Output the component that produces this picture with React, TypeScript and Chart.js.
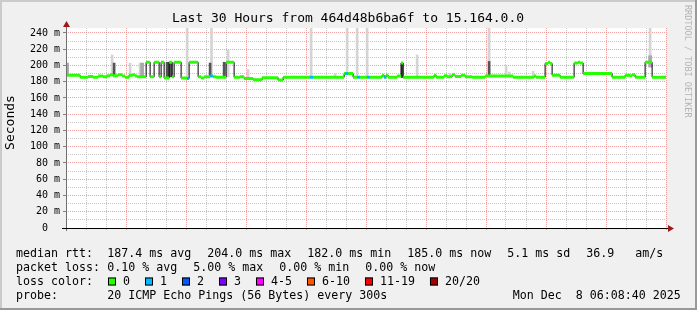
import React, { useEffect, useRef } from 'react';
import { Chart, registerables } from 'chart.js';

Chart.register(...registerables);

// ---- time axis: hours since Sun 00:00 ----
const START_H = 8 / 60 + 40 / 3600; // Sun 00:08:40
const END_H = START_H + 30; // Mon 06:08:40
const Y_MAX_MS = 246.15;

const xLabelHours = [6, 12, 18, 24, 30];
const xLabelTexts = ['Sun 06:00', 'Sun 12:00', 'Sun 18:00', 'Mon 00:00', 'Mon 06:00'];

// ---- median rtt (step starts, ms, lost pings) ----
const medianT = [
  0.144, 0.85, 1.25, 1.5, 1.75, 2.0, 2.2, 2.35, 2.5, 2.75, 2.95, 3.1, 3.3, 3.5, 3.6, 3.7,
  4.15, 4.35, 4.55, 4.8, 4.9, 5.05, 5.3, 5.45, 5.55, 5.9, 6.2, 6.3, 6.75, 6.9, 7.05, 7.35,
  7.5, 7.65, 8.15, 8.55, 8.85, 9.05, 9.5, 9.95, 10.75, 11.0, 12.35, 12.5, 14.05, 14.1, 14.25,
  14.5, 14.7, 14.85, 15.2, 15.35, 15.95, 16.05, 16.15, 16.25, 16.7, 16.9, 17.0, 18.55, 18.65,
  19.05, 19.2, 19.45, 19.6, 19.9, 20.1, 20.45, 21.1, 22.5, 23.55, 23.65, 24.1, 24.25, 24.35,
  24.45, 24.85, 25.55, 25.75, 25.85, 26.0, 27.45, 28.1, 28.35, 28.45, 28.6, 29.1, 29.45,
];
const medianMs = [
  188, 185.5, 186.5, 185.5, 187, 186, 187.5, 188.5, 187.5, 188.5, 187, 185.5, 188, 188.5, 187, 186,
  204, 186, 204, 186, 204, 184.5, 204, 186, 204, 184.5, 184, 204, 186, 184.5, 186, 187,
  186, 185.5, 204, 185.5, 186, 184, 182.5, 185, 182, 185.5, 185.5, 185.5, 190, 190, 190,
  185.5, 185.5, 185.5, 185.5, 185.5, 188, 185.5, 188, 185.5, 187, 203, 185.5, 188, 185.5,
  187.5, 186, 188.5, 186.5, 188, 186, 185.5, 187, 185.5, 187, 185.5, 202.5, 204, 202.5,
  188, 185.5, 203, 204, 203, 190, 185.5, 188, 187.5, 188.5, 185.5, 204, 185.5,
];
const medianLoss = [
  0, 0, 0, 0, 0, 0, 0, 0, 0, 0, 0, 0, 0, 0, 0, 0,
  0, 0, 0, 0, 0, 0, 0, 0, 0, 0, 1, 0, 0, 0, 0, 1,
  0, 0, 0, 0, 0, 0, 0, 0, 0, 0, 1, 0, 0, 1, 0,
  0, 1, 0, 1, 0, 0, 1, 0, 0, 0, 0, 0, 0, 0,
  0, 0, 0, 0, 0, 0, 0, 0, 0, 0, 0, 0, 0, 0,
  0, 0, 0, 0, 0, 0, 0, 0, 0, 0, 0, 0, 0,
];

// ---- smoke (ping spread) ----
const smokeLightT = [2.45, 3.35, 3.85, 6.2, 7.42, 8.25, 9.25, 12.4, 13.6, 14.2, 14.7, 15.2, 17.7, 19.35, 21.3, 22.15, 22.3, 23.5, 29.35];
const smokeLightLo = [187, 188, 186, 184, 187, 186, 184, 185, 185, 190, 185, 185, 185, 186, 187, 187, 187, 186, 204];
const smokeLightHi = [213, 203, 203, 246, 246, 219, 195, 246, 190, 246, 246, 246, 213, 190, 246, 200, 192, 193, 246];

const smokeMidT = [0.2, 3.95, 29.35];
const smokeMidLo = [188, 186, 198];
const smokeMidHi = [203, 203, 212];

const smokeDarkT = [2.55, 5.2, 5.3, 5.4, 7.35, 8.05, 16.95, 21.3];
const smokeDarkLo = [187, 186, 186, 186, 187, 186, 185, 187];
const smokeDarkHi = [203, 204, 204, 204, 203, 204, 203, 205];

// ---- legend ----
const medianStats = ['187.4 ms avg', '204.0 ms max', '182.0 ms min', '185.0 ms now', '5.1 ms sd', '36.9   am/s'];
const lossStats = ['0.10 % avg', '5.00 % max', '0.00 % min', '0.00 % now'];
const lossColors = ['#26ff00', '#00b8ff', '#0059ff', '#7e00ff', '#ff00ff', '#ff5500', '#ff0000', '#a10000'];
const lossLabels = ['0', '1', '2', '3', '4-5', '6-10', '11-19', '20/20'];
const probeText = '20 ICMP Echo Pings (56 Bytes) every 300s';
const dateText = 'Mon Dec  8 06:08:40 2025';
const titleText = 'Last 30 Hours from 464d48b6ba6f to 15.164.0.0';

const MONO = '"DejaVu Sans Mono", monospace';
const MINOR = 'rgba(180,180,180,0.75)';
const MAJOR = 'rgba(235,130,130,0.75)';

const decor = {
  id: 'decor',
  beforeDraw(chart: any) {
    const { ctx, chartArea: a, width, height } = chart;
    ctx.save();
    ctx.fillStyle = '#f0f0f0';
    ctx.fillRect(0, 0, width, height);
    ctx.fillStyle = '#ffffff';
    ctx.fillRect(a.left, a.top, a.right - a.left, a.bottom - a.top);
    ctx.restore();
  },
  afterDraw(chart: any) {
    const { ctx, chartArea: a, width, height } = chart;
    ctx.save();
    // y axis
    ctx.strokeStyle = '#707070';
    ctx.lineWidth = 1;
    ctx.beginPath();
    ctx.moveTo(a.left + 0.5, a.bottom + 3);
    ctx.lineTo(a.left + 0.5, a.top - 5);
    ctx.stroke();
    // x axis
    ctx.strokeStyle = '#000000';
    ctx.beginPath();
    ctx.moveTo(a.left - 4, a.bottom + 0.5);
    ctx.lineTo(a.right + 4, a.bottom + 0.5);
    ctx.stroke();
    // arrows
    ctx.fillStyle = '#a01818';
    ctx.beginPath();
    ctx.moveTo(a.right + 2, a.bottom - 3);
    ctx.lineTo(a.right + 8, a.bottom + 0.5);
    ctx.lineTo(a.right + 2, a.bottom + 4);
    ctx.closePath();
    ctx.fill();
    ctx.beginPath();
    ctx.moveTo(a.left - 3, a.top - 1);
    ctx.lineTo(a.left + 0.5, a.top - 7);
    ctx.lineTo(a.left + 4, a.top - 1);
    ctx.closePath();
    ctx.fill();

    // title
    ctx.fillStyle = '#000';
    ctx.font = `13px ${MONO}`;
    ctx.textAlign = 'center';
    ctx.textBaseline = 'middle';
    ctx.fillText(titleText, 348, 19);

    // y unit label
    ctx.save();
    ctx.translate(10.8, 122.5);
    ctx.rotate(-Math.PI / 2);
    ctx.font = `13px ${MONO}`;
    ctx.fillText('Seconds', 0, 0);
    ctx.restore();

    // watermark
    ctx.save();
    ctx.translate(687.5, 5);
    ctx.rotate(Math.PI / 2);
    ctx.font = `8.5px ${MONO}`;
    ctx.fillStyle = '#b4b4b4';
    ctx.textAlign = 'left';
    ctx.fillText('RRDTOOL / TOBI OETIKER', 0, 0);
    ctx.restore();

    // legend
    ctx.font = `11.63px ${MONO}`;
    ctx.textAlign = 'left';
    ctx.textBaseline = 'middle';
    ctx.fillStyle = '#000';
    const rows = [254, 268, 282, 296];
    ctx.fillText('median rtt:', 16, rows[0]);
    let x = 107.3;
    for (const s of medianStats) {
      ctx.fillText(s, x, rows[0]);
      x += ctx.measureText(s).width + 16;
    }
    ctx.fillText('packet loss:', 16, rows[1]);
    x = 107.3;
    for (const s of lossStats) {
      ctx.fillText(s, x, rows[1]);
      x += ctx.measureText(s).width + 16;
    }
    ctx.fillText('loss color:', 16, rows[2]);
    x = 108;
    for (let i = 0; i < lossLabels.length; i++) {
      ctx.fillStyle = lossColors[i];
      ctx.fillRect(x, rows[2] - 4.5, 8, 8);
      ctx.strokeStyle = '#000';
      ctx.strokeRect(x + 0.5, rows[2] - 4, 7, 7);
      ctx.fillStyle = '#000';
      ctx.fillText(lossLabels[i], x + 15, rows[2]);
      x += 15 + ctx.measureText(lossLabels[i]).width + 15;
    }
    ctx.fillText('probe:', 16, rows[3]);
    ctx.fillText(probeText, 107.3, rows[3]);
    ctx.fillText(dateText, 512.7, rows[3]);

    // 3D frame
    ctx.fillStyle = '#cbcbcb';
    ctx.fillRect(0, 0, width, 2);
    ctx.fillRect(0, 0, 2, height);
    ctx.fillStyle = '#999999';
    ctx.fillRect(0, height - 2, width, 2);
    ctx.fillRect(width - 2, 0, 2, height);
    ctx.restore();
  },
};

function buildDatasets() {
  const n = medianT.length;
  const medianLine = medianT.map((t, i) => ({ x: t, y: medianMs[i] }));
  medianLine.push({ x: END_H, y: medianMs[n - 1] });

  const lossSets: any[] = [];
  for (let lvl = 0; lvl < lossColors.length; lvl++) {
    const pts: any[] = [];
    for (let i = 0; i < n; i++) {
      if (medianLoss[i] !== lvl) continue;
      const t1 = i + 1 < n ? medianT[i + 1] : END_H;
      pts.push({ x: medianT[i], y: medianMs[i] }, { x: t1, y: medianMs[i] }, { x: t1, y: null });
    }
    if (pts.length) {
      lossSets.push({
        type: 'line',
        data: pts,
        borderColor: lossColors[lvl],
        borderWidth: 3,
        borderCapStyle: 'butt',
        pointRadius: 0,
        spanGaps: false,
        order: 1,
      });
    }
  }

  const smoke = (ts: number[], lo: number[], hi: number[], color: string, thick: number) => ({
    type: 'bar',
    data: ts.map((t, i) => ({ x: t, y: [lo[i], hi[i]] })),
    backgroundColor: color,
    borderWidth: 0,
    barThickness: thick,
    stack: 'smoke',
    order: 10,
  });

  return [
    ...lossSets,
    {
      type: 'line',
      data: medianLine,
      borderColor: '#000000',
      borderWidth: 1,
      stepped: true,
      pointRadius: 0,
      order: 5,
    },
    smoke(smokeDarkT, smokeDarkLo, smokeDarkHi, '#555555', 2),
    smoke(smokeMidT, smokeMidLo, smokeMidHi, '#a8a8a8', 3),
    smoke(smokeLightT, smokeLightLo, smokeLightHi, '#d4d4d4', 2),
  ];
}

export default function App() {
  const ref = useRef<HTMLCanvasElement>(null);
  useEffect(() => {
    const chart = new Chart(ref.current as HTMLCanvasElement, {
      type: 'bar',
      data: { datasets: buildDatasets() as any },
      plugins: [decor],
      options: {
        animation: false,
        responsive: false,
        devicePixelRatio: 1,
        layout: { padding: { left: 0, top: 28, right: 31, bottom: 0 } },
        plugins: { legend: { display: false }, tooltip: { enabled: false }, title: { display: false } },
        events: [],
        scales: {
          x: {
            type: 'linear',
            min: START_H,
            max: END_H,
            offset: false,
            afterFit: (s: any) => {
              s.height = 82;
            },
            border: { display: false, dash: [1, 1] },
            grid: {
              offset: false,
              color: (c: any) => (c.tick && Math.round(c.tick.value) % 3 === 0 ? MAJOR : MINOR),
              tickColor: (c: any) => (c.tick && Math.round(c.tick.value) % 3 === 0 ? MAJOR : MINOR),
              tickLength: 2,
              drawTicks: true,
            },
            ticks: {
              stepSize: 1,
              autoSkip: false,
              includeBounds: false,
              maxRotation: 0,
              minRotation: 0,
              padding: 2,
              color: '#000',
              font: { family: MONO, size: 10 },
              callback: (v: any) => {
                const r = Math.round(v);
                const i = xLabelHours.indexOf(r);
                return Math.abs(v - r) < 1e-6 && i >= 0 ? xLabelTexts[i] : '';
              },
            },
          },
          y: {
            type: 'linear',
            min: 0,
            max: Y_MAX_MS,
            stacked: false,
            afterFit: (s: any) => {
              s.width = 66;
            },
            border: { display: false, dash: [1, 1] },
            grid: {
              color: (c: any) => (c.tick && Math.round(c.tick.value) % 20 === 0 ? MAJOR : MINOR),
              tickColor: (c: any) => (c.tick && Math.round(c.tick.value) % 20 === 0 ? '#808080' : 'rgba(0,0,0,0)'),
              tickLength: 3,
              drawTicks: true,
            },
            ticks: {
              stepSize: 10,
              autoSkip: false,
              includeBounds: false,
              padding: 3,
              color: '#000',
              font: { family: MONO, size: 10 },
              callback: (v: any) => {
                const r = Math.round(v);
                if (r % 20 !== 0) return '';
                return r === 0 ? '0  ' : `${r} m`;
              },
            },
          },
        },
      } as any,
    });
    return () => chart.destroy();
  }, []);
  return (
    <div style={{ position: 'absolute', left: 0, top: 0, width: 697, height: 310 }}>
      <canvas ref={ref} width={697} height={310} style={{ display: 'block', width: 697, height: 310 }} />
    </div>
  );
}
